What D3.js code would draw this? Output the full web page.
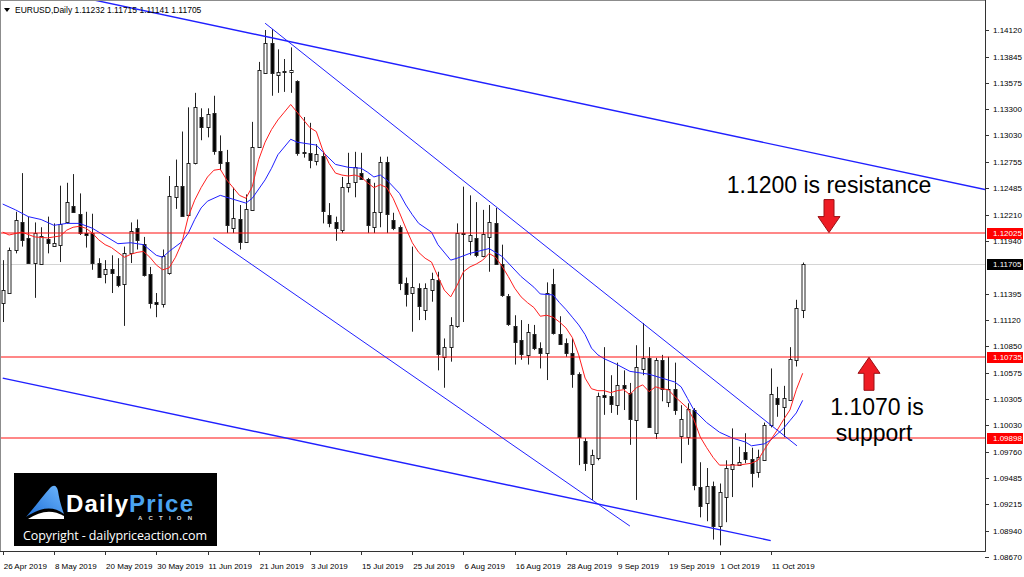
<!DOCTYPE html>
<html lang="en">
<head>
<meta charset="UTF-8">
<title>EURUSD Daily</title>
<script src="https://d3js.org/d3.v7.min.js"></script>
<style>
  body { margin: 0; background: #fff; }
  svg { display: block; font-family: 'Liberation Sans', Arial, sans-serif; }
  .axis text { font-size: 8px; fill: #000; }
  .note { font-size: 23px; fill: #000; }
</style>
</head>
<body>
<svg width="1024" height="577"></svg>
<script>
// daily candles, 26 Apr 2019 (bar 0) .. 18 Oct 2019 (bar 125)
const opens = [1.1130,1.1141,1.1185,1.1213,1.1197,1.1171,1.1170,1.1196,1.1189,1.1189,1.1213,1.1230,1.1222,1.1202,1.1202,1.1171,1.1160,1.1165,1.1158,1.1149,1.1181,1.1207,1.1191,1.1160,1.1131,1.1128,1.1160,1.1240,1.1251,1.1220,1.1274,1.1322,1.1312,1.1326,1.1287,1.1276,1.1208,1.1217,1.1193,1.1226,1.1291,1.1368,1.1399,1.1366,1.1370,1.1369,1.1359,1.1285,1.1285,1.1277,1.1282,1.1221,1.1213,1.1206,1.1250,1.1254,1.1264,1.1258,1.1209,1.1223,1.1275,1.1216,1.1208,1.1150,1.1140,1.1145,1.1122,1.1144,1.1153,1.1074,1.1084,1.1106,1.1202,1.1194,1.1197,1.1178,1.1198,1.1212,1.1170,1.1137,1.1106,1.1091,1.1076,1.1098,1.1083,1.1078,1.1149,1.1098,1.1088,1.1078,1.1056,1.0987,1.0964,1.0970,1.1035,1.1033,1.1024,1.1045,1.1037,1.1009,1.1062,1.1073,1.0995,1.1071,1.1028,1.1041,1.0992,1.0991,1.1019,1.0939,1.0922,1.0940,1.0899,1.0929,1.0958,1.0962,1.0976,1.0968,1.0954,1.0968,1.1004,1.1031,1.1022,1.1030,1.1071,1.11232];
const highs = [1.1174,1.1187,1.1224,1.1264,1.1219,1.1213,1.1208,1.1219,1.1212,1.1251,1.1254,1.1263,1.1243,1.1224,1.1222,1.1176,1.1174,1.1179,1.1176,1.1188,1.1213,1.1216,1.1198,1.1167,1.1140,1.1185,1.1261,1.1278,1.1307,1.1332,1.1347,1.1331,1.1331,1.1344,1.1303,1.1288,1.1249,1.1231,1.1242,1.1317,1.1379,1.1412,1.1413,1.1392,1.1382,1.1394,1.1360,1.1322,1.1316,1.1294,1.1286,1.1233,1.1219,1.1260,1.1285,1.1286,1.1285,1.1259,1.1254,1.1281,1.1281,1.1223,1.1210,1.1156,1.1188,1.1150,1.1150,1.1161,1.1162,1.1093,1.1115,1.1212,1.1250,1.1241,1.1234,1.1226,1.1231,1.1228,1.1190,1.1139,1.1117,1.1112,1.1108,1.1107,1.1089,1.1151,1.1165,1.1116,1.1093,1.1093,1.1058,1.0990,1.0978,1.1037,1.1084,1.1055,1.1068,1.1060,1.1047,1.1086,1.1109,1.1084,1.1073,1.1076,1.1074,1.1068,1.1024,1.1026,1.1021,1.0965,1.0959,1.0945,1.0943,1.0967,1.1000,1.0981,1.0995,1.0980,1.0978,1.1006,1.1062,1.1043,1.1044,1.1084,1.1133,1.11715];
const lows = [1.1110,1.1140,1.1181,1.1188,1.1170,1.1135,1.1169,1.1181,1.1188,1.1172,1.1212,1.1223,1.1200,1.1187,1.1164,1.1156,1.1150,1.1140,1.1146,1.1106,1.1171,1.1185,1.1157,1.1124,1.1115,1.1125,1.1159,1.1227,1.1219,1.1219,1.1273,1.1298,1.1301,1.1283,1.1267,1.1202,1.1202,1.1185,1.1192,1.1225,1.1290,1.1367,1.1344,1.1347,1.1348,1.1347,1.1282,1.1280,1.1269,1.1272,1.1212,1.1208,1.1194,1.1202,1.1244,1.1239,1.1257,1.1202,1.1202,1.1208,1.1202,1.1205,1.1143,1.1126,1.1100,1.1112,1.1112,1.1131,1.1060,1.1042,1.1069,1.1104,1.1110,1.1179,1.1177,1.1177,1.1162,1.1169,1.1136,1.1106,1.1066,1.1071,1.1066,1.1081,1.1062,1.1050,1.1097,1.1088,1.1074,1.1042,1.0962,1.0956,1.0926,1.0967,1.1014,1.1016,1.1014,1.1019,1.0983,1.0926,1.1055,1.1001,1.0989,1.1028,1.1022,1.1014,1.0964,1.0983,1.0936,1.0908,1.0904,1.0885,1.0879,1.0903,1.0929,1.0962,1.0964,1.0939,1.0949,1.0967,1.1001,1.1012,1.0991,1.1029,1.1064,1.11141];
const closes = [1.1143,1.1185,1.1216,1.1194,1.1171,1.1202,1.1199,1.1192,1.1192,1.1211,1.1234,1.1224,1.1202,1.1200,1.1171,1.1157,1.1165,1.1161,1.1149,1.1181,1.1204,1.1195,1.1159,1.1130,1.1129,1.1178,1.1240,1.1251,1.1220,1.1274,1.1332,1.1312,1.1325,1.1287,1.1275,1.1211,1.1218,1.1193,1.1227,1.1291,1.1371,1.1399,1.1368,1.1369,1.1369,1.1371,1.1285,1.1286,1.1278,1.1284,1.1225,1.1213,1.1207,1.1250,1.1254,1.1270,1.1258,1.1210,1.1224,1.1275,1.1221,1.1208,1.1150,1.1139,1.1146,1.1126,1.1145,1.1155,1.1076,1.1084,1.1107,1.1202,1.1201,1.1200,1.1179,1.1201,1.1213,1.1170,1.1138,1.1108,1.1089,1.1077,1.1100,1.1084,1.1078,1.1140,1.1098,1.1088,1.1078,1.1056,1.0991,1.0964,1.0973,1.1034,1.1033,1.1025,1.1045,1.1042,1.1010,1.1064,1.1073,1.1002,1.1071,1.1041,1.1041,1.1019,1.1010,1.1020,1.0941,1.0919,1.0940,1.0899,1.0934,1.0959,1.0963,1.0965,1.0969,1.0954,1.0970,1.1004,1.1036,1.1025,1.1031,1.1072,1.1125,1.11705];

// moving averages: [bar, price]
const fastMA = [[0,1.1203],[1,1.1200],[3,1.1203],[5,1.1198],[7,1.1197],[9,1.1199],[10,1.1205],[11,1.1208],[12,1.1209],[13,1.1207],[14,1.1202],[15,1.1195],[16,1.1190],[17,1.1187],[18,1.1182],[19,1.1177],[20,1.1180],[21,1.1182],[22,1.1183],[23,1.1177],[24,1.1169],[25,1.1164],[26,1.1166],[27,1.1177],[28,1.1192],[29,1.1219],[30,1.1236],[31,1.1249],[32,1.1260],[33,1.1267],[34,1.1268],[35,1.1257],[36,1.1249],[37,1.1241],[38,1.1238],[39,1.1250],[40,1.1278],[41,1.1296],[42,1.1309],[43,1.1319],[44,1.1327],[45,1.1335],[46,1.1327],[47,1.1319],[48,1.1311],[49,1.1307],[50,1.1288],[51,1.1274],[52,1.1264],[53,1.1262],[54,1.1261],[55,1.1262],[56,1.1260],[57,1.1254],[58,1.1249],[59,1.1252],[60,1.1249],[61,1.1238],[62,1.1223],[63,1.1207],[64,1.1192],[65,1.1182],[66,1.1176],[67,1.1172],[68,1.1157],[69,1.1143],[70,1.1136],[71,1.1148],[72,1.1162],[73,1.1167],[74,1.1170],[75,1.1174],[76,1.1181],[77,1.1177],[78,1.1168],[79,1.1157],[80,1.1145],[81,1.1136],[82,1.1130],[83,1.1125],[84,1.1116],[85,1.1117],[86,1.1115],[87,1.1110],[88,1.1104],[89,1.1094],[90,1.1076],[91,1.1052],[92,1.1041],[93,1.1039],[94,1.1039],[95,1.1037],[96,1.1039],[97,1.1040],[98,1.1035],[99,1.1042],[100,1.1045],[101,1.1038],[102,1.1043],[103,1.1041],[104,1.1040],[105,1.1033],[106,1.1027],[107,1.1021],[108,1.1009],[109,1.0991],[110,1.0980],[111,1.0970],[112,1.0962],[113,1.0962],[114,1.0962],[115,1.0962],[116,1.0963],[117,1.0964],[118,1.0967],[119,1.0978],[120,1.0988],[121,1.0998],[122,1.1009],[123,1.1019],[124,1.1040],[125,1.1057]];
const slowMA = [[0,1.1232],[2,1.1226],[4,1.1219],[6,1.1216],[8,1.1210],[10,1.1212],[12,1.1212],[14,1.1207],[16,1.1199],[18,1.1191],[20,1.1192],[22,1.1190],[24,1.1179],[25,1.1177],[26,1.1183],[28,1.1193],[29,1.1202],[30,1.1216],[31,1.1228],[32,1.1235],[34,1.1241],[36,1.1237],[38,1.1233],[39,1.1238],[41,1.1257],[42,1.1269],[43,1.1283],[45,1.1299],[46,1.1296],[49,1.1293],[50,1.1286],[52,1.1273],[54,1.1270],[56,1.1269],[57,1.1265],[58,1.1260],[59,1.1262],[60,1.1257],[62,1.1243],[63,1.1231],[64,1.1221],[65,1.1212],[67,1.1203],[68,1.1190],[70,1.1174],[71,1.1176],[73,1.1181],[76,1.1186],[78,1.1178],[79,1.1171],[81,1.1157],[83,1.1146],[84,1.1139],[86,1.1138],[87,1.1130],[88,1.1123],[89,1.1115],[90,1.1107],[91,1.1097],[92,1.1083],[93,1.1076],[94,1.1072],[96,1.1066],[98,1.1059],[100,1.1057],[101,1.1056],[103,1.1052],[105,1.1048],[106,1.1043],[107,1.1031],[108,1.1019],[110,1.1006],[112,1.0996],[114,1.0990],[116,1.0986],[117,1.0982],[119,1.0984],[120,1.0988],[121,1.0994],[122,1.1000],[123,1.1008],[124,1.1016],[125,1.1029]];

// hand drawn trend lines: [bar, price] ends
const trendLines = [
  [[10, 1.1449], [153.5, 1.1247]],
  [[0, 1.1052], [120, 1.0884]],
  [[41, 1.1419], [124.1, 1.0982]],
  [[32.9, 1.1197], [98, 1.0899]]
];
const levels = [1.12025, 1.10735, 1.09898];
const lastPrice = 1.11705;

const priceTicks = [1.14120,1.13845,1.13575,1.13300,1.13030,1.12755,1.12485,1.12210,1.11940,1.11395,1.11120,1.10850,1.10575,1.10305,1.10030,1.09760,1.09485,1.09215,1.08940,1.08670];
const dateLabels = ["26 Apr 2019","8 May 2019","20 May 2019","30 May 2019","11 Jun 2019","21 Jun 2019","3 Jul 2019","15 Jul 2019","25 Jul 2019","6 Aug 2019","16 Aug 2019","28 Aug 2019","9 Sep 2019","19 Sep 2019","1 Oct 2019","11 Oct 2019"];
const dateBars = dateLabels.map((d, i) => i * 8);

const svg = d3.select("svg");
const plot = { left: 1, top: 1, right: 985, bottom: 551 };
const x = d3.scaleLinear().domain([0, 125]).range([2.7, 802.7]);
const y = d3.scaleLinear().domain([1.08670, 1.14120]).range([557, 30]);
const fmt = d3.format(".5f");
const px = v => Math.round(v) + 0.5;

svg.append("defs").append("clipPath").attr("id", "plot")
  .append("rect")
  .attr("x", plot.left).attr("y", plot.top)
  .attr("width", plot.right - plot.left).attr("height", plot.bottom - plot.top);

// frame
svg.append("rect")
  .attr("x", 0.5).attr("y", 0.5)
  .attr("width", plot.right).attr("height", plot.bottom)
  .attr("fill", "#fff").attr("stroke", "#8c8c8c");
svg.append("path")
  .attr("d", `M${plot.right + 0.5},0 V${plot.bottom + 0.5} H0`)
  .attr("fill", "none").attr("stroke", "#333");

const g = svg.append("g").attr("clip-path", "url(#plot)");

// last price line
g.append("line")
  .attr("x1", plot.left).attr("x2", plot.right)
  .attr("y1", px(y(lastPrice))).attr("y2", px(y(lastPrice)))
  .attr("stroke", "#d4d4d4");

// candles
const bars = d3.range(opens.length).map(i => ({ i, o: opens[i], h: highs[i], l: lows[i], c: closes[i] }));
g.selectAll("line.wick").data(bars).join("line")
  .attr("class", "wick")
  .attr("x1", d => px(x(d.i))).attr("x2", d => px(x(d.i)))
  .attr("y1", d => y(d.h)).attr("y2", d => y(d.l))
  .attr("stroke", "#222");
g.selectAll("rect.body").data(bars).join("rect")
  .attr("class", "body")
  .attr("x", d => px(x(d.i)) - 1.5)
  .attr("width", 3)
  .attr("y", d => Math.round(y(Math.max(d.o, d.c))) + 0.5)
  .attr("height", d => Math.max(1, Math.round(Math.abs(y(d.o) - y(d.c)))))
  .attr("fill", d => d.c >= d.o ? "#fff" : "#000")
  .attr("stroke", "#222");

// moving averages
const maLine = d3.line().x(d => x(d[0])).y(d => y(d[1]));
g.append("path").attr("d", maLine(slowMA)).attr("fill", "none").attr("stroke", "#1f1fff").attr("stroke-width", 1);
g.append("path").attr("d", maLine(fastMA)).attr("fill", "none").attr("stroke", "#ff1f1f").attr("stroke-width", 1);

// levels
g.selectAll("line.level").data(levels).join("line")
  .attr("class", "level")
  .attr("x1", plot.left).attr("x2", plot.right)
  .attr("y1", d => Math.round(y(d))).attr("y2", d => Math.round(y(d)))
  .attr("stroke", "#ff1010").attr("stroke-width", 1.2);

// trend lines
g.selectAll("line.trend").data(trendLines).join("line")
  .attr("class", "trend")
  .attr("x1", d => x(d[0][0])).attr("y1", d => y(d[0][1]))
  .attr("x2", d => x(d[1][0])).attr("y2", d => y(d[1][1]))
  .attr("stroke", "#2020ff")
  .attr("stroke-width", (d, i) => i < 2 ? 1.4 : 1);

// price axis
const ax = svg.append("g").attr("class", "axis");
ax.selectAll("line.pt").data(priceTicks).join("line")
  .attr("class", "pt")
  .attr("x1", plot.right).attr("x2", plot.right + 4)
  .attr("y1", d => px(y(d))).attr("y2", d => px(y(d)))
  .attr("stroke", "#333");
ax.selectAll("text.pt").data(priceTicks).join("text")
  .attr("class", "pt")
  .attr("x", plot.right + 8).attr("y", d => y(d) + 3)
  .text(d => fmt(d));

const tags = levels.map(v => ({ v, fill: "#ff0000" })).concat([{ v: lastPrice, fill: "#000" }]);
const tag = ax.selectAll("g.tag").data(tags).join("g").attr("class", "tag");
tag.append("rect")
  .attr("x", plot.right + 2).attr("y", d => Math.round(y(d.v)) - 5)
  .attr("width", 36).attr("height", 11)
  .attr("fill", d => d.fill);
tag.append("text")
  .attr("x", plot.right + 8).attr("y", d => y(d.v) + 3)
  .style("fill", "#fff")
  .text(d => fmt(d.v));

// date axis
ax.selectAll("line.dt").data(dateBars).join("line")
  .attr("class", "dt")
  .attr("x1", d => px(x(d))).attr("x2", d => px(x(d)))
  .attr("y1", plot.bottom).attr("y2", plot.bottom + 4)
  .attr("stroke", "#333");
ax.selectAll("text.dt").data(dateBars).join("text")
  .attr("class", "dt")
  .attr("x", d => x(d) + 1).attr("y", 569)
  .text((d, i) => dateLabels[i]);

// header
svg.append("path").attr("d", "M4,8 h6 l-3,4 z").attr("fill", "#000");
svg.append("text").attr("x", 15).attr("y", 13).attr("font-size", 8.5)
  .text("EURUSD,Daily  1.11232 1.11715 1.11141 1.11705");

// annotations
function arrow(cx, tipY, dir) {
  const s = dir;
  const pts = [[0, 0], [-11, -16 * s], [-5, -16 * s], [-5, -33 * s], [5, -33 * s], [5, -16 * s], [11, -16 * s]];
  svg.append("path")
    .attr("d", "M" + pts.map(p => [cx + p[0], tipY + p[1]].join(",")).join("L") + "Z")
    .attr("fill", "#ee1c24").attr("stroke", "#9b1014").attr("stroke-width", 1);
}
arrow(829, y(levels[0]), 1);
arrow(869, y(levels[1]), -1);

svg.append("text").attr("class", "note").attr("x", 829).attr("y", 193)
  .attr("text-anchor", "middle").text("1.1200 is resistance");
svg.append("text").attr("class", "note").attr("x", 877).attr("y", 415)
  .attr("text-anchor", "middle").text("1.1070 is");
svg.append("text").attr("class", "note").attr("x", 874).attr("y", 441)
  .attr("text-anchor", "middle").text("support");

// logo
const logo = svg.append("g");
logo.append("rect").attr("x", 14).attr("y", 473).attr("width", 203).attr("height", 73).attr("fill", "#000");
const grad = svg.select("defs").append("linearGradient").attr("id", "swoosh").attr("x1", 0).attr("y1", 1).attr("x2", 1).attr("y2", 0);
grad.append("stop").attr("offset", 0).attr("stop-color", "#1f6fd6");
grad.append("stop").attr("offset", 1).attr("stop-color", "#6fb8ff");
logo.append("path")
  .attr("d", "M26,517 C34,508 42,497 50,488 C54,484 57,486 58,491 C59,498 61,506 64,514 C52,505 40,508 26,517 Z")
  .attr("fill", "url(#swoosh)");
logo.append("path")
  .attr("d", "M28,519 C40,511 52,509 64,516 L64,519 Z")
  .attr("fill", "#fff");
logo.append("text").attr("x", 66).attr("y", 512).attr("font-size", 24).attr("font-weight", "bold")
  .attr("fill", "#fff").attr("textLength", 62).text("Daily");
logo.append("text").attr("x", 129).attr("y", 512).attr("font-size", 24).attr("font-weight", "bold")
  .attr("fill", "#4aa3f0").attr("textLength", 64).text("Price");
logo.append("text").attr("x", 138).attr("y", 520).attr("font-size", 6).attr("font-weight", "bold")
  .attr("fill", "#ddd").attr("textLength", 54).attr("lengthAdjust", "spacing").text("ACTION");
logo.append("text").attr("x", 23).attr("y", 540).attr("font-size", 12.5)
  .attr("font-family", "'Open Sans', sans-serif")
  .attr("fill", "#fff").attr("textLength", 184).text("Copyright - dailypriceaction.com");
</script>
</body>
</html>
